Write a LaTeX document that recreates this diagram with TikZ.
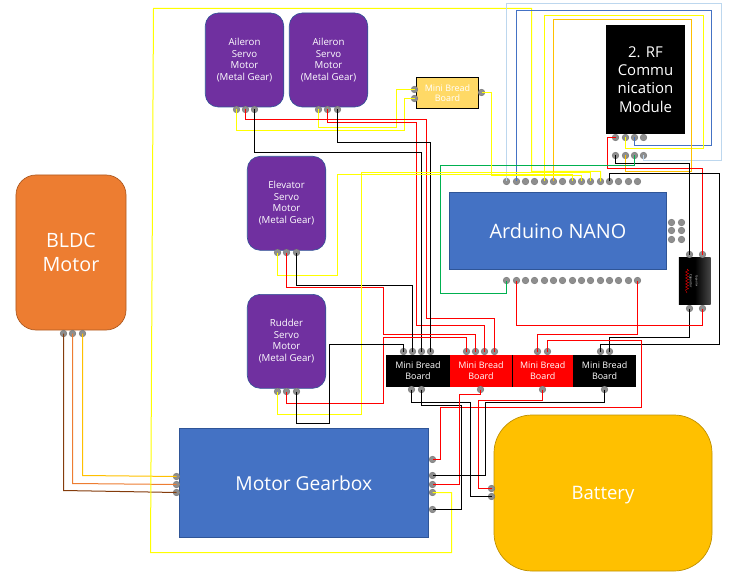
\documentclass[tikz,border=0pt]{standalone}
\usepackage{fontspec}
\setmainfont{Open Sans}
\usetikzlibrary{shadings}
\definecolor{pinfill}{HTML}{8E8E8E}
\definecolor{purp}{HTML}{7030A0}
\definecolor{nblue}{HTML}{4472C4}
\definecolor{nblueb}{HTML}{2F5597}
\definecolor{nora}{HTML}{ED7D31}
\definecolor{noraB}{HTML}{AE5A21}
\definecolor{gold}{HTML}{FFC000}
\definecolor{goldB}{HTML}{BF9000}
\definecolor{mini}{HTML}{FFD966}
\definecolor{lblue}{HTML}{BDD7EE}
\definecolor{wgreen}{HTML}{00B050}
\definecolor{wbrown}{HTML}{843C0C}
\definecolor{wyel}{HTML}{FFFF00}
\tikzset{
  pin/.style={circle,fill=pinfill,draw=pinfill!80!black,line width=.3bp,inner sep=0pt,minimum size=6.8bp},
  wire/.style={line width=1bp,line join=miter},
  servo/.style={rectangle,rounded corners=13bp,fill=purp,draw=nblueb,line width=.6bp,minimum width=78.5bp,minimum height=94bp,text=white,align=center,font=\fontsize{9.7}{11.6}\selectfont,inner sep=0pt},
  bluebox/.style={rectangle,fill=nblue,draw=nblueb,line width=.8bp,text=white,inner sep=0pt},
  bb/.style={rectangle,minimum height=31.7bp,text=white,align=center,font=\fontsize{9}{10.6}\selectfont,inner sep=0pt},
}
\begin{document}
\begin{tikzpicture}[x=1bp,y=-1bp]
\useasboundingbox (0,0) rectangle (729,578);
% boxes
\node[rectangle,rounded corners=20bp,fill=nora,draw=noraB,line width=.7bp,minimum width=110bp,minimum height=155bp,text=white,align=center,font=\fontsize{19.8}{24}\selectfont,inner sep=0pt] (bldc) at (71,252.5) {BLDC\\Motor};
\node[servo] (ail1) at (244.5,60) {Aileron\\Servo\\Motor\\(Metal Gear)};
\node[servo] (ail2) at (328.5,60) {Aileron\\Servo\\Motor\\(Metal Gear)};
\node[servo] (elev) at (286.5,203.3) {Elevator\\Servo\\Motor\\(Metal Gear)};
\node[servo] (rudd) at (286.5,341.3) {Rudder\\Servo\\Motor\\(Metal Gear)};
\node[rectangle,fill=mini,draw=black,line width=.8bp,minimum width=62.4bp,minimum height=31bp,text=white,align=center,font=\fontsize{9}{10.2}\selectfont,inner sep=0pt] (ybb) at (447.5,92.8) {Mini Bread\\Board};
\node[rectangle,fill=black,minimum width=79bp,minimum height=109bp,text=white,align=center,font=\fontsize{15}{18.3}\selectfont,inner sep=0pt] (rf) at (645.5,79.5) {2. RF\\Commu\\nication\\Module};
\node[bluebox,minimum width=217.4bp,minimum height=77bp,font=\fontsize{19.9}{23}\selectfont] (nano) at (558,230.8) {Arduino NANO};
\node[bb,fill=black,minimum width=64bp] (bb1) at (418,370.8) {Mini Bread\\Board};
\node[bb,fill=red,minimum width=62bp] (bb2) at (481,370.8) {Mini Bread\\Board};
\node[bb,fill=red,minimum width=61.5bp] (bb3) at (542.7,370.8) {Mini Bread\\Board};
\node[bb,fill=black,minimum width=62.7bp] (bb4) at (604.6,370.8) {Mini Bread\\Board};
\draw[black,line width=.7bp] (bb2.north east) -- (bb2.south east);
\node[bluebox,minimum width=249.7bp,minimum height=109bp,font=\fontsize{19.3}{22}\selectfont] (gear) at (303.8,482.8) {\raisebox{-8pt}[0pt][0pt]{Motor Gearbox}};
\node[rectangle,rounded corners=38bp,fill=gold,draw=goldB,line width=.7bp,minimum width=218bp,minimum height=156bp,text=white,font=\fontsize{18.6}{22}\selectfont,inner sep=0pt] (batt) at (603,493) {\raisebox{-6.5pt}[0pt][0pt]{Battery}};
% capacitor module
\node[rectangle,left color=black,right color=black!72,middle color=black,minimum width=31.7bp,minimum height=46.7bp,inner sep=0pt] (cap) at (694.8,281.3) {};
\draw[red,line width=.4bp] (687,269) -- (688.5,270.5) -- (685.5,272) -- (688.5,273.5) -- (685.5,275) -- (688.5,276.5) -- (685.5,278) -- (688.5,279.5) -- (685.5,281) -- (688.5,282.5) -- (685.5,284) -- (688.5,285.5) -- (685.5,287) -- (688.5,288.5) -- (685.5,290) -- (687,293);
\node[rotate=-90,text=white,font=\fontsize{2.6}{3}\selectfont,inner sep=0pt] (capa) at (696.5,281) {Capacitor};
\node[rotate=-90,text=white,font=\fontsize{3}{3}\selectfont,inner sep=0pt] (capb) at (690.7,281) {Capacitor};
% pins
\foreach \n/\x/\y in {a1/236.5/109.5,a2/245.5/109.5,a3/254.5/109.5,b1/318.5/109.5,b2/327.5/109.5,b3/337.5/109.5,
 e1/277.5/252.5,e2/286.5/252.5,e3/296.5/252.5,r1/277.5/391.5,r2/286.5/391.5,r3/296.5/391.5,
 yl1/414.5/89.5,yl2/414.5/98.5,yr/481.5/92.5,
 m1/63.5/333.5,m2/72.5/333.5,m3/82.5/333.5,
 gl1/176.5/476.5,gl2/176.5/484.5,gl3/176.5/492.5,
 gr1/432.5/459.5,gr2/432.5/475.5,gr3/432.5/484.5,gr4/432.5/492.5,gr5/432.5/509.5,
 ba1/491.5/488.5,ba2/491.5/496.5,
 rt1/615.5/137.5,rt2/625.5/137.5,rt3/634.5/137.5,rt4/643.5/137.5,
 rb1/615.5/155.5,rb2/625.5/155.5,rb3/634.5/155.5,rb4/643.5/155.5,
 ct1/689.5/254.5,ct2/702.5/254.5,cb1/689.5/308.5,cb2/702.5/308.5,
 x1/671.5/222.5,x2/681.5/222.5,x3/671.5/230.5,x4/681.5/230.5,x5/671.5/239.5,x6/681.5/239.5,
 s1t1/403.5/351.5,s1t2/412.5/351.5,s1t3/421.5/351.5,s1t4/430.5/351.5,
 s2t1/466.5/351.5,s2t2/475.5/351.5,s2t3/484.5/351.5,s2t4/494.5/351.5,
 s3t1/537.5/351.5,s3t2/547.5/351.5,s4t1/600.5/351.5,s4t2/609.5/351.5,
 s1b1/411.5/389.5,s1b2/421.5/389.5,s2b/480.5/389.5,s3b/542.5/389.5,s4b/604.5/389.5}
  \node[pin] (\n) at (\x,\y) {};
\foreach \n/\x in {1/506.5,2/516.5,3/525.5,4/534.5,5/544.5,6/553.5,7/562.5,8/572.5,9/581.5,10/590.5,11/600.5,12/609.5,13/618.5,14/628.5,15/637.5}{
  \node[pin] (t\n) at (\x,181.5) {};
  \node[pin] (u\n) at (\x,280.5) {};
}
% motor wires
\draw[wire,wbrown] (m1.center) -- (63.5,490.5) -- (gl3.center);
\draw[wire,nora] (m2.center) -- (72.5,483.5) -- (gl2.center);
\draw[wire,gold] (m3.center) -- (82.5,475.5) -- (gl1.center);
% long yellow loop
\draw[wire,wyel] (gr4.center) -| (451.5,552.5) -- (150.5,552.5) -- (153.5,8.5) -- (531.5,8.5) |- (600.5,171.5) -- (t11.center);
% RF wires
\draw[wire,lblue] (rb4.center) |- (721.5,160.5) |- (506.5,3.5) -- (t1.center);
\draw[wire,nblue] (rt3.center) |- (711.5,145.5) |- (516.5,10.5) -- (t2.center);
\draw[wire,wyel] (rt2.center) |- (703.5,148.5) |- (544.5,15.5) -- (t5.center);
\draw[wire,gold] (rb2.center) |- (691.5,171.5) |- (553.5,19.5) -- (t6.center);
\draw[wire,red] (rt1.center) -| (607.5,168.5) -| (ct2.center);
\draw[wire,black] (rb1.center) |- (689.5,163.5) -- (ct1.center);
\draw[wire,wgreen] (rb3.center) |- (440.5,165.5) |- (506.5,293.5) -- (u1.center);
\draw[wire,black] (t12.center) |- (719.5,173.5) |- (600.5,344.5) -- (s4t1.center);
\draw[wire,black] (cb1.center) |- (609.5,337.5) -- (s4t2.center);
\draw[wire,red] (u2.center) |- (702.5,325.5) -- (cb2.center);
\draw[wire,red] (u15.center) |- (537.5,334.5) -- (s3t1.center);
\draw[wire,red] (s3t2.center) |- (641.5,340.5) |- (440.5,407.5) |- (gr1.center);
% aileron wires
\draw[wire,wyel] (a1.center) |- (404.5,130.5) |- (yl2.center);
\draw[wire,wyel] (b1.center) |- (396.5,127.5) |- (yl1.center);
\draw[wire,red] (a2.center) |- (426.5,119.5) |- (494.5,318.5) -- (s2t4.center);
\draw[wire,red] (b2.center) |- (416.5,122.5) |- (484.5,325.5) -- (s2t3.center);
\draw[wire,black] (a3.center) |- (421.5,152.5) -- (s1t3.center);
\draw[wire,black] (b3.center) |- (430.5,142.5) -- (s1t4.center);
% mini board to nano
\draw[wire,wyel] (yr.center) -| (491.5,175.5) -| (t9.center);
% elevator wires
\draw[wire,wyel] (e1.center) |- (337.5,275.5) |- (572.5,174.5) -- (t8.center);
\draw[wire,red] (e2.center) |- (383.5,287.5) |- (475.5,334.5) -- (s2t2.center);
\draw[wire,black] (e3.center) |- (412.5,285.5) -- (s1t2.center);
% rudder wires
\draw[wire,wyel] (r1.center) |- (361.5,414.5) |- (590.5,172.5) -- (t10.center);
\draw[wire,red] (r2.center) |- (383.5,403.5) |- (466.5,337.5) -- (s2t1.center);
\draw[wire,black] (r3.center) |- (329.5,423.5) |- (403.5,344.5) -- (s1t1.center);
% bottom wires
\draw[wire,black] (s1b1.center) |- (470.5,402.5) |- (ba2.center);
\draw[wire,black] (s1b2.center) |- (461.5,405.5) |- (gr5.center);
\draw[wire,red] (s2b.center) |- (459.5,394.5) |- (gr3.center);
\draw[wire,red] (s3b.center) |- (478.5,400.5) |- (ba1.center);
\draw[wire,black] (s4b.center) |- (485.5,402.5) |- (gr2.center);
\end{tikzpicture}
\end{document}
